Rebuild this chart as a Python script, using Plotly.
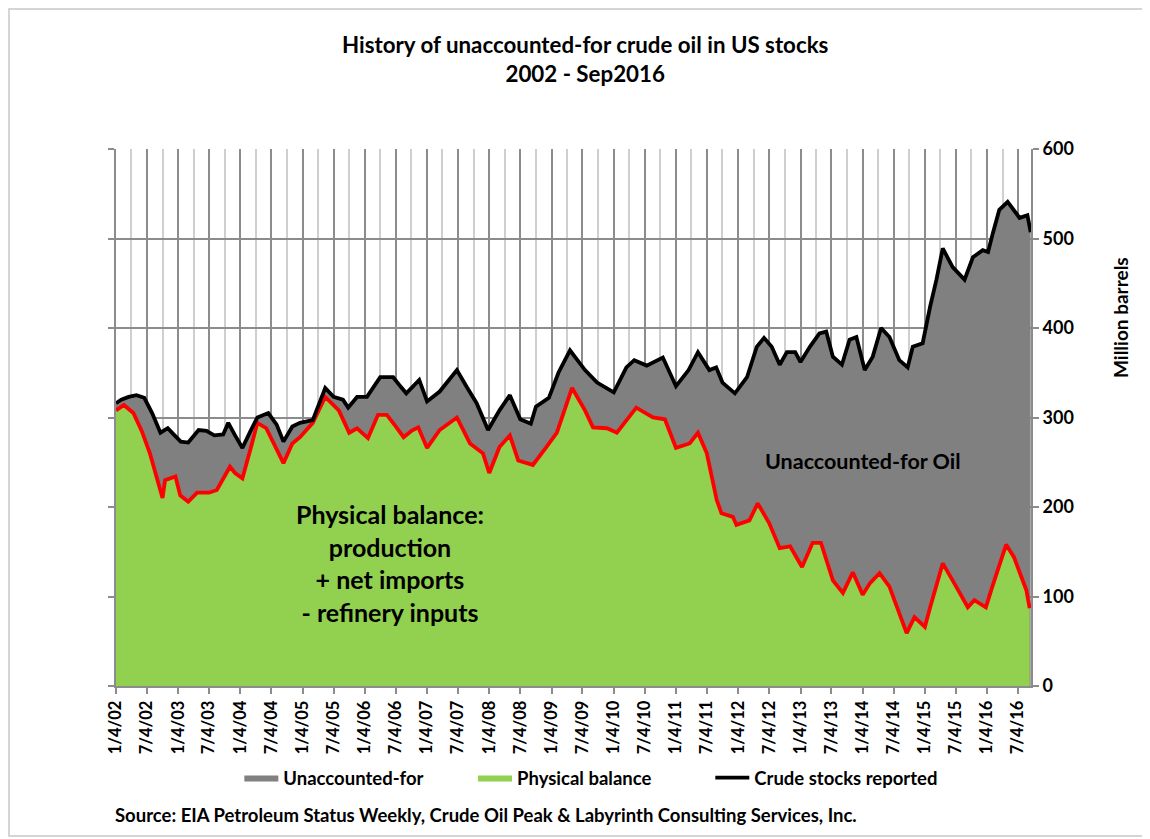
import plotly.graph_objects as go

# ---------------- data ----------------
stock_dates = [
    "2002-01-04", "2002-02-04", "2002-03-19", "2002-05-04", "2002-06-19", "2002-08-04",
    "2002-09-22", "2002-11-04", "2002-12-04", "2003-01-19", "2003-03-04", "2003-05-04",
    "2003-06-19", "2003-08-04", "2003-09-25", "2003-10-25", "2003-12-04", "2004-01-16",
    "2004-03-04", "2004-04-13", "2004-06-16", "2004-08-04", "2004-09-13", "2004-11-04",
    "2004-12-19", "2005-03-04", "2005-05-16", "2005-07-04", "2005-08-28", "2005-09-28",
    "2005-11-19", "2006-01-16", "2006-04-04", "2006-06-19", "2006-08-04", "2006-09-04",
    "2006-11-19", "2007-01-04", "2007-03-19", "2007-05-04", "2007-06-28", "2007-08-25",
    "2007-10-22", "2007-12-28", "2008-03-04", "2008-05-04", "2008-07-04", "2008-09-04",
    "2008-10-04", "2008-12-19", "2009-02-13", "2009-04-22", "2009-07-19", "2009-09-28",
    "2010-01-04", "2010-03-19", "2010-05-04", "2010-07-16", "2010-10-19", "2011-01-04",
    "2011-03-19", "2011-05-13", "2011-07-19", "2011-08-28", "2011-10-04", "2011-12-16",
    "2012-02-25", "2012-04-22", "2012-06-04", "2012-07-19", "2012-09-04", "2012-10-16",
    "2012-12-04", "2013-01-04", "2013-02-28", "2013-04-25", "2013-06-04", "2013-07-13",
    "2013-09-04", "2013-10-19", "2013-11-28", "2014-01-16", "2014-03-04", "2014-04-22",
    "2014-06-10", "2014-08-07", "2014-09-25", "2014-10-25", "2014-12-22", "2015-02-04",
    "2015-03-13", "2015-04-19", "2015-06-16", "2015-08-25", "2015-10-13", "2015-12-10",
    "2016-01-10", "2016-02-07", "2016-03-16", "2016-05-04", "2016-07-13", "2016-08-28",
    "2016-09-16",
]
crude_stocks = [
    316, 320, 323, 325, 322, 305,
    283, 288, 282, 273, 272, 286,
    285, 280, 281, 294, 280, 266,
    285, 300, 305, 292, 273, 290,
    294, 297, 333, 323, 320, 311,
    323, 323, 345, 345, 334, 327,
    342, 318, 329, 340, 353, 334,
    316, 286, 308, 325, 298, 293,
    312, 322, 350, 375, 353, 339,
    328, 356, 364, 358, 367, 335,
    353, 373, 353, 356, 339, 327,
    345, 379, 389, 379, 359, 373,
    373, 362, 379, 394, 396, 368,
    359, 387, 390, 353, 368, 400,
    390, 364, 356, 379, 383, 424,
    454, 489, 468, 454, 479, 487,
    485, 506, 532, 541, 523, 526,
    507,
]

balance_dates = [
    "2002-01-04", "2002-02-19", "2002-04-16", "2002-06-04", "2002-07-22", "2002-09-04",
    "2002-10-04", "2002-10-19", "2002-12-19", "2003-01-16", "2003-03-04", "2003-04-25",
    "2003-07-04", "2003-08-19", "2003-11-04", "2003-12-04", "2004-01-16", "2004-03-04",
    "2004-04-13", "2004-06-04", "2004-07-19", "2004-09-13", "2004-11-04", "2004-12-19",
    "2005-03-04", "2005-05-16", "2005-08-04", "2005-10-04", "2005-11-19", "2006-01-22",
    "2006-03-22", "2006-05-13", "2006-07-04", "2006-08-19", "2006-10-04", "2006-11-13",
    "2007-01-04", "2007-03-19", "2007-06-28", "2007-09-13", "2007-11-28", "2008-01-04",
    "2008-03-04", "2008-05-04", "2008-06-22", "2008-09-16", "2008-12-04", "2009-02-04",
    "2009-05-04", "2009-07-19", "2009-09-04", "2009-11-25", "2010-01-22", "2010-05-16",
    "2010-08-22", "2010-10-31", "2011-01-04", "2011-03-25", "2011-05-13", "2011-07-04",
    "2011-08-31", "2011-09-28", "2011-12-04", "2011-12-25", "2012-03-10", "2012-04-28",
    "2012-07-04", "2012-09-04", "2012-11-04", "2013-01-13", "2013-03-16", "2013-05-04",
    "2013-07-13", "2013-09-10", "2013-11-07", "2014-01-04", "2014-02-16", "2014-04-13",
    "2014-06-10", "2014-08-07", "2014-09-19", "2014-11-04", "2015-01-04", "2015-02-04",
    "2015-04-19", "2015-06-16", "2015-09-13", "2015-10-22", "2015-12-28", "2016-02-04",
    "2016-04-25", "2016-06-10", "2016-07-28", "2016-08-22", "2016-09-10",
]
physical_balance = [
    308, 314, 305, 285, 260, 232,
    210, 230, 234, 213, 206, 216,
    216, 219, 245, 238, 232, 265,
    294, 288, 270, 249, 271, 278,
    294, 323, 308, 283, 288, 277,
    303, 303, 290, 278, 285, 289,
    266, 286, 300, 271, 260, 238,
    267, 280, 252, 247, 267, 283,
    333, 308, 289, 288, 283, 311,
    300, 298, 266, 271, 283, 260,
    208, 193, 189, 180, 185, 204,
    182, 154, 156, 133, 160, 160,
    118, 104, 127, 102, 115, 126,
    111, 82, 59, 77, 66, 88,
    137, 118, 88, 96, 88, 111,
    158, 144, 118, 107, 87,
]

tick_dates = [f"{y}-{m:02d}-04" for y in range(2002, 2017) for m in (1, 7)]
tick_labels = [f"{m}/4/{y % 100:02d}" for y in range(2002, 2017) for m in (1, 7)]

y_ticks = [0, 100, 200, 300, 400, 500, 600]

# ---------------- figure ----------------
FONT = "Lato"
GRAY = "#808080"
GREEN = "#92D050"
PAD1 = "\u00a0" * 10  # spacing between legend entries
PAD2 = "\u00a0" * 12

fig = go.Figure()

fig.add_trace(go.Scatter(
    x=stock_dates, y=crude_stocks, name="Unaccounted-for" + PAD1,
    mode="lines", line=dict(width=0, color=GRAY),
    fill="tozeroy", fillcolor=GRAY,
))
fig.add_trace(go.Scatter(
    x=balance_dates, y=physical_balance, name="Physical balance" + PAD2,
    mode="lines", line=dict(width=0, color=GREEN),
    fill="tozeroy", fillcolor=GREEN,
))
fig.add_trace(go.Scatter(
    x=balance_dates, y=physical_balance, name="Physical balance line",
    mode="lines", line=dict(width=3.8, color="#FF0000"), showlegend=False,
))
fig.add_trace(go.Scatter(
    x=stock_dates, y=crude_stocks, name="Crude stocks reported",
    mode="lines", line=dict(width=3.8, color="#000000"),
))

# page body has an 8px margin: figure coordinates = screen coordinates - 8
OFF = 8
W, H = 1150 - OFF, 839 - OFF
L, R, T, B = 116, 1031, 149, 686   # plot area in screen pixels


def px(xp):
    return (xp - L) / (R - L)


def py(yp):
    return (B - yp) / (B - T)


fig.update_layout(
    width=W, height=H,
    margin=dict(l=L - OFF, r=W - (R - OFF), t=T - OFF, b=H - (B - OFF), pad=0),
    paper_bgcolor="white", plot_bgcolor="white",
    font=dict(family=FONT, color="#000000", size=16, weight="bold"),
    showlegend=True,
    legend=dict(
        orientation="h", x=px(243) - 0.004, y=py(778), xanchor="left", yanchor="middle",
        font=dict(family=FONT, size=18.5, weight="bold", color="#000000"),
        itemwidth=34, traceorder="normal", bgcolor="rgba(0,0,0,0)",
    ),
    xaxis=dict(
        type="date",
        range=["2002-01-04", "2016-09-18"],
        tickmode="array", tickvals=tick_dates, ticktext=tick_labels,
        tickangle=-90,
        tickfont=dict(family=FONT, size=16.5, weight="bold"),
        showgrid=True, gridcolor="#8c8c8c", gridwidth=2,
        minor=dict(dtick="M3", tick0="2002-01-04", showgrid=True,
                   gridcolor="#cfcfcf", gridwidth=2),
        showline=True, linecolor="#8c8c8c", linewidth=2,
        ticks="outside", ticklen=6, tickcolor="#8c8c8c", tickwidth=2,
        zeroline=False,
    ),
    yaxis=dict(
        side="right", range=[0, 600],
        tickmode="array", tickvals=y_ticks,
        tickfont=dict(family=FONT, size=18, weight="bold"),
        showgrid=True, gridcolor="#8c8c8c", gridwidth=2,
        showline=True, linecolor="#8c8c8c", linewidth=2, mirror="ticks",
        ticks="outside", ticklen=6, tickcolor="#8c8c8c", tickwidth=2,
        zeroline=False,
    ),
)


def note(text, x, y, size, xanchor="center", **kw):
    return dict(text=text, x=px(x), y=py(y), xref="paper", yref="paper",
                showarrow=False, xanchor=xanchor, yanchor="middle",
                font=dict(family=FONT, size=size, weight="bold", color="#000000"), **kw)


annotations = [
    note("History of unaccounted-for crude oil in US stocks<br>2002 - Sep2016",
         585, 59, 22.3, align="center"),
    note("Physical balance:<br>production<br>+ net imports<br>- refinery inputs",
         390, 563, 25, align="center"),
    note("Unaccounted-for Oil", 863, 461, 21.5),
    note("Million barrels", 1120, 318, 19, textangle=-90),
    note("Source: EIA Petroleum Status Weekly, Crude Oil Peak & Labyrinth Consulting Services, Inc.",
         113, 815, 18.5, xanchor="left"),
]
fig.update_layout(annotations=annotations)

fig.add_shape(type="rect", xref="paper", yref="paper",
              x0=px(9), x1=px(1146), y0=py(836), y1=py(9),
              line=dict(color="#c8c8c8", width=1.5), layer="below")

fig.write_html("out.html")
